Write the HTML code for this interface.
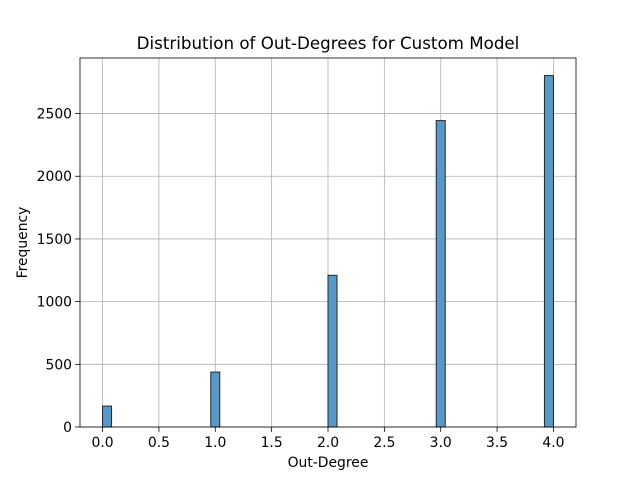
<!DOCTYPE html>
<html><head><meta charset="utf-8"><style>body{margin:0;background:#fff}svg{display:block;font-family:"DejaVu Sans","Liberation Sans",sans-serif}</style></head>
<body>
<svg id="c" width="640" height="480"></svg>
<script>
const categories=[0,1,2,3,4];
const binStarts=[0,0.96,2.0,2.96,3.92];
const values=[167,438,1210,2444,2803];
const xTicks=[0,0.5,1,1.5,2,2.5,3,3.5,4];
const xTickLabels=["0.0","0.5","1.0","1.5","2.0","2.5","3.0","3.5","4.0"];
const yTicks=[0,500,1000,1500,2000,2500];
const binWidth=0.08;
const L=80,R=576,T=58,B=427;
const xmin=-0.2,xmax=4.2,ymax=Math.max(...values)*1.05;
const X=v=>L+(v-xmin)/(xmax-xmin)*(R-L);
const Y=v=>B-v/ymax*(B-T);
const s=document.getElementById('c');const NS='http://www.w3.org/2000/svg';
function add(t,a,txt){const e=document.createElementNS(NS,t);for(const k in a)e.setAttribute(k,a[k]);if(txt!==undefined)e.textContent=txt;s.appendChild(e);return e;}
let e;
xTicks.forEach((v,i)=>{
 e=add('line',{x1:X(v),x2:X(v),y1:T,y2:B,stroke:'#b0b0b0','stroke-width':0.8});
 
 e=add('line',{x1:X(v),x2:X(v),y1:B,y2:B+4.9,stroke:'#000','stroke-width':0.8});
 
 e=add('text',{x:X(v),y:B+20,'text-anchor':'middle','font-size':13.9},xTickLabels[i]);
 
});
yTicks.forEach(v=>{
 e=add('line',{x1:L-4.9,x2:L,y1:Y(v),y2:Y(v),stroke:'#000','stroke-width':0.8});
 
 e=add('line',{x1:L,x2:R,y1:Y(v),y2:Y(v),stroke:'#b0b0b0','stroke-width':0.8});
 
 e=add('text',{x:L-8,y:Y(v)+5,'text-anchor':'end','font-size':13.9},String(v));
 
});
values.forEach((v,i)=>{
 e=add('rect',{x:X(binStarts[i]),y:Y(v),width:X(binStarts[i]+binWidth)-X(binStarts[i]),height:B-Y(v),fill:'#5798c8',stroke:'#262626','stroke-width':1});
 
});
e=add('rect',{x:L,y:T,width:R-L,height:B-T,fill:'none',stroke:'#000','stroke-width':0.8});

e=add('text',{x:(L+R)/2,y:49,'text-anchor':'middle','font-size':16.7},'Distribution of Out-Degrees for Custom Model');

e=add('text',{x:(L+R)/2,y:467,'text-anchor':'middle','font-size':13.9},'Out-Degree');

e=add('text',{x:27,y:(T+B)/2,'text-anchor':'middle','font-size':13.9,transform:'rotate(-90 27 '+((T+B)/2)+')'},'Frequency');

</script>
</body></html>
